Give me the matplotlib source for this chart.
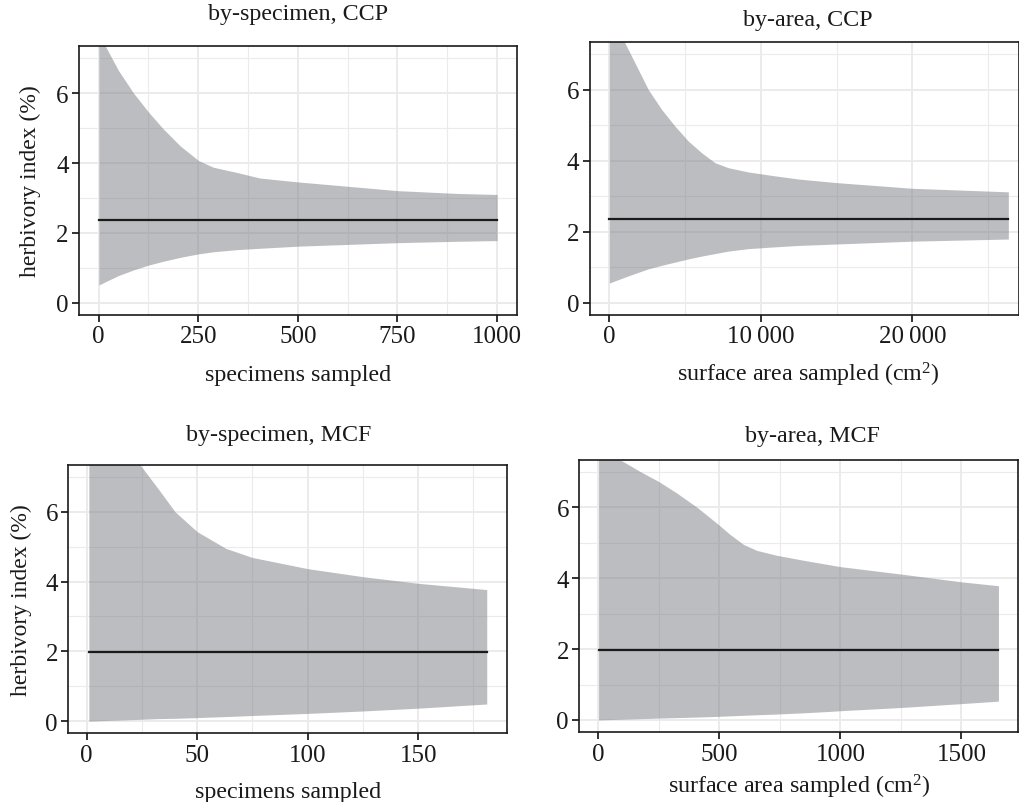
import matplotlib
matplotlib.use("Agg")
import matplotlib.pyplot as plt
from matplotlib.ticker import FixedLocator

# ---------------- data ----------------
spec_ccp_x = [1, 17, 50, 88, 126, 163, 205, 251, 288, 347, 405, 500, 600, 750, 900, 1000]
spec_ccp_upper = [7.8, 7.35, 6.65, 6.0, 5.45, 4.97, 4.49, 4.07, 3.88, 3.73, 3.57, 3.46, 3.36, 3.21, 3.13, 3.10]
spec_ccp_lower = [0.51, 0.60, 0.78, 0.94, 1.08, 1.19, 1.30, 1.40, 1.46, 1.52, 1.56, 1.62, 1.66, 1.72, 1.76, 1.78]
spec_ccp_mean = 2.36

area_ccp_x = [1, 990, 1696, 2576, 3456, 4337, 5215, 6095, 6977, 7855, 9175, 10937, 12500, 15000, 20000, 26340]
area_ccp_upper = [8.1, 7.35, 6.75, 6.0, 5.44, 4.97, 4.55, 4.22, 3.94, 3.80, 3.68, 3.57, 3.48, 3.38, 3.22, 3.12]
area_ccp_lower = [0.55, 0.71, 0.82, 0.95, 1.05, 1.14, 1.23, 1.31, 1.38, 1.45, 1.52, 1.57, 1.61, 1.65, 1.73, 1.79]
area_ccp_mean = 2.36

spec_mcf_x = [1, 24, 32, 40, 50, 63, 75, 100, 125, 150, 181]
spec_mcf_upper = [9.0, 7.36, 6.69, 6.0, 5.43, 4.95, 4.69, 4.37, 4.14, 3.95, 3.77]
spec_mcf_lower = [0.0, 0.05, 0.07, 0.08, 0.10, 0.13, 0.16, 0.22, 0.29, 0.37, 0.49]
spec_mcf_mean = 1.98

area_mcf_x = [1, 97, 172, 248, 324, 407, 496, 544, 599, 654, 737, 847, 957, 1000, 1250, 1500, 1653]
area_mcf_upper = [7.6, 7.32, 7.02, 6.74, 6.41, 6.01, 5.52, 5.24, 4.96, 4.79, 4.65, 4.51, 4.38, 4.33, 4.12, 3.90, 3.79]
area_mcf_lower = [0.0, 0.02, 0.035, 0.05, 0.065, 0.08, 0.10, 0.115, 0.13, 0.145, 0.165, 0.20, 0.24, 0.26, 0.35, 0.46, 0.53]
area_mcf_mean = 1.98

titles = ["by-specimen, CCP", "by-area, CCP", "by-specimen, MCF", "by-area, MCF"]
xlabels = ["specimens sampled", "surface area sampled (cm$^{2}$)",
           "specimens sampled", "surface area sampled (cm$^{2}$)"]
ylabel = "herbivory index (%)"

x_major = [[0, 250, 500, 750, 1000], [0, 10000, 20000], [0, 50, 100, 150], [0, 500, 1000, 1500]]
x_minor = [[125, 375, 625, 875], [5000, 15000, 25000], [25, 75, 125, 175], [250, 750, 1250]]
x_ticklabels = [["0", "250", "500", "750", "1000"], ["0", "10\u2009000", "20\u2009000"],
                ["0", "50", "100", "150"], ["0", "500", "1000", "1500"]]
y_major = [0, 2, 4, 6]
y_minor = [1, 3, 5, 7]

# ---------------- style ----------------
plt.rcParams['font.family'] = ['Liberation Serif', 'DejaVu Serif']
plt.rcParams['mathtext.fontset'] = 'custom'
plt.rcParams['mathtext.rm'] = 'Liberation Serif'
plt.rcParams['mathtext.it'] = 'Liberation Serif:italic'

W, H = 1020, 803
fig = plt.figure(figsize=(W / 100, H / 100), dpi=100)

# axes boxes in pixels: left, right, top, bottom
boxes = [(79, 517, 47, 316), (589.7, 1019, 42.7, 316), (68.3, 507.3, 465.7, 734.3), (579.3, 1018.3, 460.7, 733.3)]
xlims = [(-49, 1050), (-1294, 27043), (-8.3, 190.3), (-78.5, 1735)]
title_pos = [(0.5, 1.119), (0.508, 1.083), (0.48, 1.111), (0.531, 1.088)]
xlabel_pos = [(0.5, -0.223), (0.508, -0.216), (0.5, -0.2185), (0.5, -0.196)]
ylabel_pos = [(-0.112, 0.5), None, (-0.106, 0.5), None]

series = [
    (spec_ccp_x, spec_ccp_lower, spec_ccp_upper, spec_ccp_mean),
    (area_ccp_x, area_ccp_lower, area_ccp_upper, area_ccp_mean),
    (spec_mcf_x, spec_mcf_lower, spec_mcf_upper, spec_mcf_mean),
    (area_mcf_x, area_mcf_lower, area_mcf_upper, area_mcf_mean),
]

txt = '#1a1a1a'
for i, (l, r, t, b) in enumerate(boxes):
    ax = fig.add_axes([l / W, 1 - b / H, (r - l) / W, (b - t) / H])
    x, lo, up, m = series[i]
    ax.fill_between(x, lo, up, color='#7B7D83', alpha=0.5, linewidth=0, zorder=2)
    ax.plot([x[0], x[-1]], [m, m], color='#1a1a1a', lw=1.6, zorder=3)
    ax.set_xlim(*xlims[i])
    ax.set_ylim(-0.35, 7.35)
    ax.xaxis.set_major_locator(FixedLocator(x_major[i]))
    ax.xaxis.set_minor_locator(FixedLocator(x_minor[i]))
    ax.set_xticklabels(x_ticklabels[i])
    ax.yaxis.set_major_locator(FixedLocator(y_major))
    ax.yaxis.set_minor_locator(FixedLocator(y_minor))
    ax.set_axisbelow(True)
    ax.grid(which='major', color='#EBEBEB', lw=1.4, zorder=0)
    ax.grid(which='minor', color='#EBEBEB', lw=0.8, zorder=0)
    ax.tick_params(which='major', length=5, width=1.3, color='#222222', labelsize=18,
                   labelcolor=txt, pad=2.5)
    ax.tick_params(which='minor', length=0)
    for s in ax.spines.values():
        s.set_color('#1a1a1a')
        s.set_linewidth(1.2)
    ax.set_title(titles[i], fontsize=17.3, color=txt, pad=0,
                 x=title_pos[i][0], y=title_pos[i][1], va='center')
    ax.set_xlabel(xlabels[i], fontsize=17.3, color=txt)
    ax.xaxis.set_label_coords(*xlabel_pos[i])
    ax.xaxis.label.set_va('center')
    if ylabel_pos[i] is not None:
        ax.set_ylabel(ylabel, fontsize=17, color=txt)
        ax.yaxis.set_label_coords(*ylabel_pos[i])
        ax.yaxis.label.set_va('center')

fig.savefig('out.png', dpi=100)
